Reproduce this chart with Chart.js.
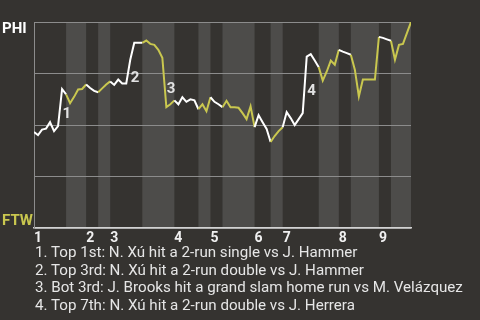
<!DOCTYPE html>
<html><head><meta charset="utf-8">
<script src="https://cdn.jsdelivr.net/npm/chart.js@4"></script>
<style>
html,body{margin:0;padding:0;background:#353330;}
#wrap{position:relative;width:480px;height:320px;overflow:hidden;background:#353330;font-family:Roboto,sans-serif;}
canvas{position:absolute;left:0;top:0;}
.team{position:absolute;left:2px;font:bold 15px/18px Roboto,sans-serif;white-space:nowrap;}
#caption{position:absolute;left:35px;top:244.3px;color:#e6e6e6;font:15.15px/17.4px Roboto,sans-serif;white-space:nowrap;}
</style></head><body>
<div id="wrap">
<canvas id="c" width="480" height="320"></canvas>
<div class="team" id="away" style="top:19.3px;color:#ffffff;"></div>
<div class="team" id="home" style="top:210.6px;color:#c9c74f;"></div>
<div id="caption"></div>
</div>
<script>
// ---- data ----
const awayTeam = 'PHI';
const homeTeam = 'FTW';
// PHI win probability (%) after each play
const winProb = [
  46.6, 45.2, 47.8, 48.3, 51.4, 47.1, 49.5, 67.5, 64.9, 60.6,
  63.7, 67.3, 67.5, 69.7, 68.0, 66.6, 65.9, 67.8, 69.7, 71.2,
  69.5, 72.1, 70.2, 70.2, 81.7, 89.9, 89.9, 89.9, 91.0, 89.4,
  88.9, 86.5, 82.7, 58.7, 60.1, 62.0, 60.1, 63.5, 61.3, 62.5,
  62.0, 57.7, 60.1, 56.7, 63.5, 61.3, 60.1, 58.7, 61.8, 58.7,
  58.7, 58.4, 55.8, 52.9, 59.1, 49.0, 54.8, 51.4, 48.1, 41.8,
  44.7, 47.1, 49.0, 56.3, 53.4, 50.0, 52.9, 55.8, 83.2, 84.4,
  81.3, 78.1, 71.6, 76.0, 81.3, 79.3, 86.5, 85.6, 84.9, 84.1,
  76.9, 63.9, 72.1, 72.1, 72.1, 72.1, 92.8, 92.3, 91.6, 90.9,
  81.7, 88.9, 89.4, 94.7, 100
];
// play index at which each half-inning begins (top 1st, bot 1st, top 2nd, ...)
const halfInningStarts = [0, 8, 13, 16, 19, 27, 35, 41, 44, 47, 55, 59, 62, 71, 76, 79, 86, 89];
const inningLabels = ['1', '2', '3', '4', '5', '6', '7', '8', '9'];
const eventPlays = [7, 24, 33, 68];
const eventLabels = ['1', '2', '3', '4'];
const eventTexts = [
  '1. Top 1st: N. Xú hit a 2-run single vs J. Hammer',
  '2. Top 3rd: N. Xú hit a 2-run double vs J. Hammer',
  '3. Bot 3rd: J. Brooks hit a grand slam home run vs M. Velázquez',
  '4. Top 7th: N. Xú hit a 2-run double vs J. Herrera'
];

// ---- styles ----
const BG = '#353330', BAND = '#4d4c4a', GRID = '#8c8c8c', AXIS = '#d2d2d2';
const TOP_COLOR = '#ffffff', BOT_COLOR = '#c9c74f';

document.getElementById('away').textContent = awayTeam;
document.getElementById('home').textContent = homeTeam;
document.getElementById('caption').innerHTML = eventTexts.map(t => '<div>' + t.replace(/&/g,'&amp;') + '</div>').join('');

const lastPlay = winProb.length - 1;
const inningStarts = halfInningStarts.filter((_, k) => k % 2 === 0);
function halfIndex(i) {
  let k = 0;
  for (let j = 0; j < halfInningStarts.length; j++) if (halfInningStarts[j] <= i) k = j;
  return k;
}

const bandsPlugin = {
  id: 'bands',
  beforeDraw(chart) {
    const {ctx, chartArea: a, scales: {x}} = chart;
    ctx.save();
    ctx.fillStyle = BG;
    ctx.fillRect(0, 0, chart.width, chart.height);
    ctx.fillStyle = BAND;
    for (let k = 1; k < halfInningStarts.length; k += 2) {
      const x0 = x.getPixelForValue(halfInningStarts[k]);
      const end = k + 1 < halfInningStarts.length ? halfInningStarts[k + 1] : lastPlay;
      const x1 = x.getPixelForValue(end);
      ctx.fillRect(x0, a.top, x1 - x0, a.bottom - a.top);
    }
    ctx.restore();
  }
};

const eventPlugin = {
  id: 'events',
  afterDatasetsDraw(chart) {
    const {ctx, scales: {x, y}} = chart;
    ctx.save();
    ctx.font = 'bold 15px Roboto, sans-serif';
    ctx.fillStyle = '#e2e2e2';
    ctx.textAlign = 'left';
    ctx.textBaseline = 'alphabetic';
    eventPlays.forEach((p, n) => {
      const mid = (winProb[p - 1] + winProb[p]) / 2;
      ctx.fillText(eventLabels[n], x.getPixelForValue(p) + 0.5, y.getPixelForValue(mid) + 10.5);
    });
    ctx.restore();
  }
};

new Chart(document.getElementById('c'), {
  type: 'line',
  data: {
    datasets: [{
      data: winProb.map((v, i) => ({x: i, y: v})),
      borderWidth: 2,
      pointRadius: 0,
      tension: 0,
      fill: false,
      segment: {
        borderColor: c => (halfIndex(c.p0DataIndex) % 2 === 0 ? TOP_COLOR : BOT_COLOR)
      }
    }]
  },
  options: {
    responsive: false,
    animation: false,
    events: [],
    layout: {padding: {left: 34, right: 69, top: 22, bottom: 71}},
    plugins: {legend: {display: false}, tooltip: {enabled: false}},
    scales: {
      x: {
        type: 'linear', min: 0, max: lastPlay, position: 'bottom',
        grid: {display: false, drawTicks: false},
        border: {display: true, color: AXIS, width: 1.5},
        afterBuildTicks: s => { s.ticks = inningStarts.map(v => ({value: v})); },
        ticks: {
          autoSkip: false, maxRotation: 0, align: 'start', padding: 2,
          color: '#f0f0f0', font: {family: 'Roboto', weight: 'bold', size: 14},
          callback: (v, idx) => inningLabels[idx]
        }
      },
      y: {
        min: 0, max: 100,
        grid: {color: GRID, lineWidth: 1, drawTicks: false},
        border: {display: true, color: GRID, width: 1},
        ticks: {display: false, stepSize: 25}
      }
    }
  },
  plugins: [bandsPlugin, eventPlugin]
});
</script>
</body></html>
